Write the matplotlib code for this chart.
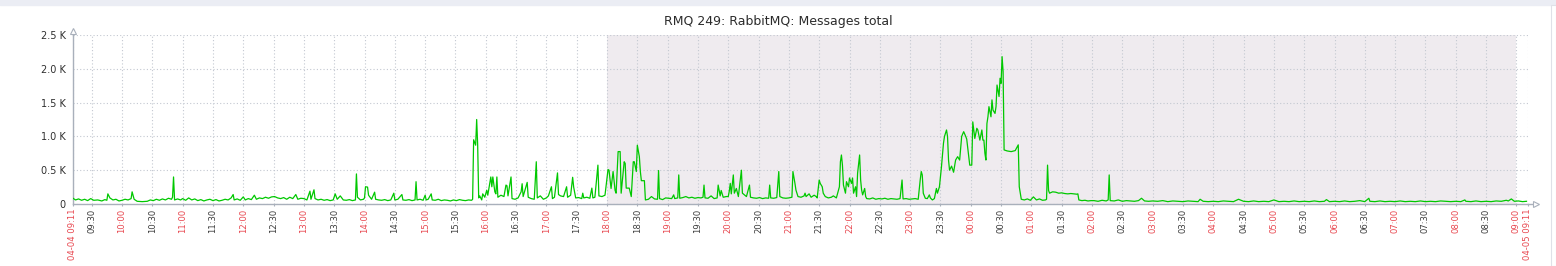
import matplotlib
matplotlib.use("Agg")
import matplotlib.pyplot as plt
import pandas as pd
from matplotlib.patches import Rectangle

title = "RMQ 249: RabbitMQ: Messages total"
start = "2024-04-04 09:11"
end = "2024-04-05 09:11"
off_start = "2024-04-04 18:00"
off_end = "2024-04-05 09:00"

# sample clock times (rolls over midnight) and message counts, one line per hour
clock = [
    "09:11", "09:14", "09:17", "09:20", "09:23", "09:26", "09:29", "09:32", "09:36", "09:40", "09:43", "09:45", "09:46", "09:48", "09:51", "09:54", "09:57",
    "10:00", "10:03", "10:06", "10:09", "10:10", "10:12", "10:15", "10:20", "10:25", "10:28", "10:31", "10:34", "10:37", "10:40", "10:43", "10:46", "10:49", "10:50", "10:51", "10:52", "10:55", "10:58",
    "11:00", "11:03", "11:06", "11:09", "11:12", "11:15", "11:18", "11:21", "11:24", "11:27", "11:30", "11:33", "11:36", "11:39", "11:42", "11:45", "11:48", "11:50", "11:51", "11:54", "11:57",
    "12:00", "12:02", "12:05", "12:08", "12:11", "12:13", "12:16", "12:19", "12:22", "12:25", "12:28", "12:31", "12:34", "12:37", "12:40", "12:43", "12:46", "12:49", "12:52", "12:54", "12:57",
    "13:00", "13:03", "13:06", "13:07", "13:10", "13:11", "13:14", "13:17", "13:20", "13:23", "13:26", "13:29", "13:31", "13:33", "13:36", "13:39", "13:42", "13:45", "13:48", "13:51", "13:52", "13:53", "13:56", "13:59",
    "14:00", "14:01", "14:03", "14:04", "14:07", "14:10", "14:11", "14:14", "14:17", "14:20", "14:23", "14:26", "14:29", "14:30", "14:33", "14:37", "14:38", "14:41", "14:44", "14:47", "14:50", "14:51", "14:52", "14:55", "14:58",
    "15:00", "15:01", "15:03", "15:06", "15:07", "15:10", "15:13", "15:16", "15:19", "15:22", "15:25", "15:28", "15:31", "15:34", "15:37", "15:40", "15:43", "15:46", "15:47", "15:48", "15:50", "15:51", "15:52", "15:53", "15:54", "15:56", "15:57", "15:59",
    "16:01", "16:02", "16:05", "16:06", "16:07", "16:09", "16:10", "16:11", "16:12", "16:15", "16:18", "16:20", "16:21", "16:22", "16:25", "16:26", "16:29", "16:32", "16:35", "16:36", "16:37", "16:41", "16:42", "16:45", "16:48", "16:50", "16:51", "16:54", "16:57",
    "17:00", "17:02", "17:05", "17:06", "17:08", "17:11", "17:12", "17:14", "17:17", "17:20", "17:21", "17:24", "17:26", "17:27", "17:29", "17:32", "17:35", "17:36", "17:37", "17:40", "17:43", "17:45", "17:46", "17:48", "17:51", "17:52", "17:55", "17:58",
    "18:01", "18:02", "18:04", "18:06", "18:08", "18:09", "18:11", "18:13", "18:14", "18:17", "18:18", "18:19", "18:22", "18:24", "18:26", "18:27", "18:29", "18:30", "18:32", "18:33", "18:34", "18:37", "18:38", "18:41", "18:44", "18:47", "18:50", "18:51", "18:52", "18:55", "18:58",
    "19:01", "19:04", "19:06", "19:07", "19:10", "19:11", "19:12", "19:15", "19:18", "19:21", "19:24", "19:27", "19:30", "19:33", "19:35", "19:36", "19:37", "19:40", "19:43", "19:46", "19:49", "19:50", "19:52", "19:53", "19:55", "19:58",
    "20:00", "20:01", "20:02", "20:03", "20:05", "20:06", "20:08", "20:10", "20:13", "20:14", "20:16", "20:18", "20:21", "20:22", "20:25", "20:28", "20:31", "20:34", "20:37", "20:40", "20:41", "20:42", "20:45", "20:48", "20:50", "20:51", "20:54", "20:57",
    "21:00", "21:03", "21:04", "21:06", "21:07", "21:09", "21:12", "21:15", "21:16", "21:17", "21:20", "21:22", "21:25", "21:27", "21:28", "21:30", "21:31", "21:33", "21:34", "21:36", "21:39", "21:42", "21:44", "21:47", "21:50", "21:51", "21:52", "21:53", "21:54", "21:56", "21:57", "21:59",
    "22:00", "22:02", "22:03", "22:04", "22:06", "22:07", "22:08", "22:10", "22:11", "22:12", "22:13", "22:15", "22:16", "22:17", "22:20", "22:23", "22:26", "22:29", "22:32", "22:35", "22:38", "22:41", "22:44", "22:47", "22:50", "22:52", "22:53", "22:56", "22:59",
    "23:02", "23:05", "23:08", "23:10", "23:11", "23:12", "23:13", "23:15", "23:17", "23:19", "23:20", "23:22", "23:24", "23:26", "23:27", "23:29", "23:30", "23:31", "23:33", "23:34", "23:36", "23:37", "23:38", "23:39", "23:41", "23:43", "23:45", "23:47", "23:49", "23:51", "23:53", "23:55", "23:56", "23:58", "23:59",
    "00:01", "00:02", "00:04", "00:06", "00:07", "00:09", "00:11", "00:12", "00:13", "00:14", "00:15", "00:16", "00:17", "00:18", "00:20", "00:21", "00:22", "00:24", "00:25", "00:26", "00:28", "00:29", "00:30", "00:31", "00:32", "00:33", "00:36", "00:40", "00:44", "00:47", "00:48", "00:50", "00:53", "00:56", "00:59",
    "01:02", "01:05", "01:08", "01:11", "01:14", "01:15", "01:16", "01:17", "01:18", "01:21", "01:24", "01:27", "01:30", "01:33", "01:36", "01:39", "01:42", "01:45", "01:46", "01:47", "01:50", "01:53", "01:56", "01:59",
    "02:02", "02:06", "02:10", "02:14", "02:16", "02:17", "02:18", "02:22", "02:26", "02:30", "02:34", "02:38", "02:42", "02:46", "02:49", "02:52", "02:56",
    "03:00", "03:05", "03:10", "03:15", "03:20", "03:25", "03:30", "03:35", "03:40", "03:45", "03:47", "03:50", "03:55",
    "04:00", "04:05", "04:10", "04:15", "04:20", "04:25", "04:30", "04:35", "04:40", "04:45", "04:50", "04:55",
    "05:00", "05:05", "05:10", "05:15", "05:20", "05:25", "05:30", "05:35", "05:40", "05:45", "05:50", "05:52", "05:55",
    "06:00", "06:05", "06:10", "06:15", "06:20", "06:25", "06:30", "06:34", "06:35", "06:40", "06:45", "06:50", "06:55",
    "07:00", "07:05", "07:10", "07:15", "07:20", "07:25", "07:30", "07:35", "07:40", "07:45", "07:50", "07:55",
    "08:00", "08:05", "08:09", "08:10", "08:15", "08:20", "08:25", "08:30", "08:35", "08:40", "08:45", "08:50", "08:52", "08:55", "08:58",
    "09:02", "09:06", "09:10",
]
messages = [
    90, 60, 75, 55, 70, 50, 80, 55, 60, 45, 65, 55, 150, 90, 60, 70, 45,
    55, 70, 60, 80, 180, 70, 40, 35, 40, 60, 50, 70, 55, 75, 60, 85, 70, 100, 400, 60, 75, 60,
    80, 55, 90, 60, 75, 50, 65, 45, 60, 70, 50, 65, 45, 55, 70, 60, 90, 140, 60, 75, 55,
    105, 60, 80, 65, 130, 70, 90, 80, 100, 85, 105, 110, 90, 80, 95, 70, 100, 80, 140, 70, 85,
    80, 60, 190, 70, 210, 80, 60, 70, 55, 65, 50, 60, 150, 70, 120, 60, 55, 65, 50, 60, 445, 100, 60, 70,
    90, 255, 250, 130, 70, 175, 70, 60, 55, 65, 50, 60, 160, 60, 70, 140, 60, 55, 65, 50, 60, 330, 60, 70, 55,
    130, 60, 70, 150, 60, 55, 70, 50, 60, 55, 45, 60, 50, 65, 55, 50, 60, 55, 70, 950, 870, 1250, 870, 90, 120, 60, 150, 100,
    205, 130, 400, 255, 400, 180, 150, 400, 100, 130, 110, 280, 270, 120, 400, 80, 70, 90, 180, 300, 110, 320, 100, 80, 70, 625, 90, 120, 70,
    90, 120, 255, 80, 100, 460, 140, 120, 110, 255, 100, 130, 395, 250, 90, 95, 80, 160, 90, 100, 85, 235, 90, 100, 575, 120, 110, 130,
    510, 500, 230, 480, 200, 160, 775, 775, 160, 625, 600, 235, 235, 110, 625, 625, 480, 870, 700, 480, 345, 345, 60, 70, 110, 75, 70, 495, 80, 65, 90,
    85, 80, 135, 80, 90, 430, 85, 95, 110, 90, 100, 85, 95, 90, 100, 280, 90, 85, 120, 80, 90, 280, 120, 200, 100, 110,
    110, 190, 305, 150, 430, 160, 230, 110, 500, 160, 135, 110, 280, 100, 90, 85, 95, 80, 90, 85, 280, 90, 85, 95, 480, 110, 90, 85,
    90, 100, 480, 305, 205, 110, 100, 120, 160, 110, 150, 100, 130, 110, 90, 355, 305, 255, 160, 110, 90, 100, 120, 90, 255, 625, 725, 575, 280, 160, 330, 255,
    385, 305, 385, 160, 255, 110, 455, 725, 355, 205, 135, 230, 110, 80, 75, 90, 70, 80, 75, 85, 70, 80, 75, 70, 80, 355, 75, 80, 70,
    75, 80, 70, 360, 480, 430, 160, 85, 80, 135, 90, 60, 80, 230, 160, 255, 400, 550, 900, 1000, 1095, 1000, 650, 500, 560, 470, 650, 700, 650, 1000, 1070, 1000, 960, 700, 575,
    575, 1215, 970, 1120, 1095, 945, 1095, 945, 945, 750, 650, 1190, 1290, 1440, 1290, 1540, 1390, 1340, 1440, 1760, 1590, 1860, 1785, 2180, 1960, 800, 785, 775, 790, 875, 255, 70, 60, 75, 55,
    105, 60, 75, 55, 60, 70, 575, 200, 160, 180, 175, 160, 165, 155, 150, 155, 150, 145, 150, 60, 50, 55, 45, 50,
    50, 40, 55, 45, 60, 430, 50, 45, 60, 40, 50, 45, 40, 50, 85, 45, 40,
    45, 40, 50, 35, 45, 40, 35, 45, 40, 35, 70, 40, 35,
    40, 35, 45, 40, 35, 70, 40, 35, 45, 35, 40, 35,
    60, 35, 40, 35, 45, 35, 40, 35, 45, 35, 40, 65, 35,
    40, 35, 45, 35, 40, 50, 35, 85, 40, 35, 45, 35, 40,
    35, 45, 35, 40, 35, 45, 35, 40, 35, 45, 40, 35,
    40, 35, 60, 40, 35, 45, 35, 40, 35, 45, 40, 55, 45, 75, 40,
    45, 35, 40,
]

y_ticks = [0, 500, 1000, 1500, 2000, 2500]
y_labels = ["0", "0.5 K", "1.0 K", "1.5 K", "2.0 K", "2.5 K"]

assert len(clock) == len(messages), (len(clock), len(messages))

# turn clock strings into timestamps, adding a day after midnight
stamps = []
day = pd.Timestamp(start).normalize()
prev = None
for c in clock:
    ts = day + pd.Timedelta(hours=int(c[:2]), minutes=int(c[3:]))
    if prev is not None and ts < prev:
        day += pd.Timedelta(days=1)
        ts += pd.Timedelta(days=1)
    stamps.append(ts.to_pydatetime())
    prev = ts

W, H = 1556, 266
fig = plt.figure(figsize=(W / 100, H / 100), dpi=100)
fig.patches.append(Rectangle((0, 1 - 5 / H), 1, 5 / H, transform=fig.transFigure,
                             color="#ebedf4", zorder=0))
fig.patches.append(Rectangle((1 - 5 / W, 0), 5 / W, 1 - 5 / H, transform=fig.transFigure,
                             facecolor="white", edgecolor="#dfe1e8", lw=0.8, zorder=0))

ax = fig.add_axes([72.5 / W, 62 / H, 1455 / W, 169 / H])
ax.set_facecolor("white")

t0 = pd.Timestamp(start).to_pydatetime()
t1 = pd.Timestamp(end).to_pydatetime()
ax.axvspan(pd.Timestamp(off_start).to_pydatetime(), pd.Timestamp(off_end).to_pydatetime(),
           color="#efebef", lw=0, zorder=0)

ax.plot(stamps, messages, color="#00c800", lw=0.9, zorder=3)

ax.set_xlim(t0, t1)
ax.set_ylim(0, 2500)

# ticks every 30 minutes plus the two ends
half_hours = list(pd.date_range("2024-04-04 09:30", "2024-04-05 09:00", freq="30min"))
ticks = [pd.Timestamp(start)] + half_hours + [pd.Timestamp(end)]
labels = ["04-04 09:11"] + [t.strftime("%H:%M") for t in half_hours] + ["04-05 09:11"]
colors = ["#e8474f"] + ["#e8474f" if t.minute == 0 else "#3c3c3c" for t in half_hours] + ["#e8474f"]

ax.set_xticks([t.to_pydatetime() for t in ticks])
ax.set_xticklabels(labels, rotation=90, fontsize=6.1)
for lab, c in zip(ax.get_xticklabels(), colors):
    lab.set_color(c)
ax.tick_params(axis="x", length=1.5, pad=2, color="#a9b0bb")

ax.set_yticks(y_ticks)
ax.set_yticklabels(y_labels, fontsize=7, color="#2f2f2f")
ax.tick_params(axis="y", length=0, pad=5)

ax.grid(True, color="#c3c8d1", linestyle=(0, (1, 2)), lw=0.8, zorder=1)
ax.set_axisbelow(True)

for s in ["top", "right"]:
    ax.spines[s].set_visible(False)
for s in ["left", "bottom"]:
    ax.spines[s].set_color("#a9b0bb")
    ax.spines[s].set_linewidth(1.0)

# axis arrows
ax.plot([1, 1 + 7 / 1455], [0, 0], transform=ax.transAxes, color="#a9b0bb", lw=1.0, clip_on=False)
ax.plot([1 + 8 / 1455], [0], marker=">", ms=5, mfc="white", mec="#a9b0bb", mew=0.8,
        transform=ax.transAxes, clip_on=False)
ax.plot([0, 0], [1, 1 + 2 / 169], transform=ax.transAxes, color="#a9b0bb", lw=1.0, clip_on=False)
ax.plot([0], [1 + 4 / 169], marker="^", ms=5, mfc="white", mec="#a9b0bb", mew=0.8,
        transform=ax.transAxes, clip_on=False)

fig.text(778 / W, 1 - 21 / H, title, ha="center", va="center", fontsize=9, color="#2b2b2b")

fig.savefig("out.png", dpi=100)
